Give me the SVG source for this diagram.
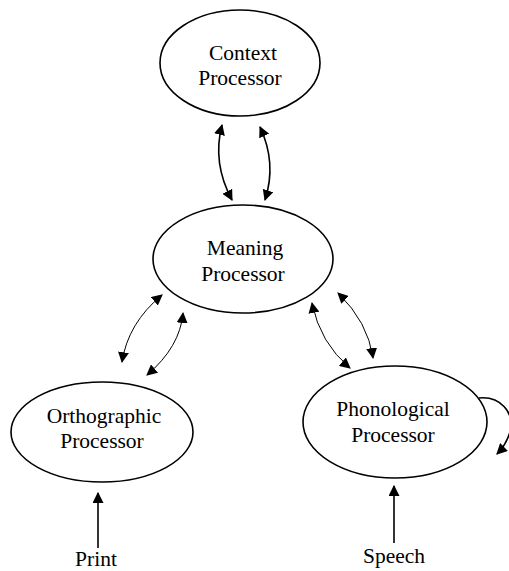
<svg xmlns="http://www.w3.org/2000/svg" width="509" height="571" viewBox="0 0 509 571">
<defs>
<style>
.node ellipse{fill:#fff;stroke:#000;stroke-width:1.6}
text{font-family:"Liberation Serif","Times New Roman",serif;font-size:21.5px;fill:#000;text-anchor:middle}
.c path{fill:none;stroke:#000}
.thick{stroke-width:1.6}
.thin{stroke-width:1}
</style>
<marker id="ah" viewBox="0 0 10 10" refX="9" refY="5" markerWidth="11" markerHeight="11" markerUnits="userSpaceOnUse" orient="auto-start-reverse">
<path d="M0,0 L10,5 L0,10 z" fill="#000"/>
</marker>
</defs>
<rect width="509" height="571" fill="#fff"/>
<g class="c" id="connectors">
<path class="thick" d="M222,125 Q212,163 232,200" marker-start="url(#ah)" marker-end="url(#ah)"/>
<path class="thick" d="M260,127 Q277,163 265,200" marker-start="url(#ah)" marker-end="url(#ah)"/>
<path class="thin" d="M162,295 Q128,323 122,362" marker-start="url(#ah)" marker-end="url(#ah)"/>
<path class="thin" d="M183,313 Q180,347 147,375" marker-start="url(#ah)" marker-end="url(#ah)"/>
<path class="thin" d="M312,303 Q320,343 350,368" marker-start="url(#ah)" marker-end="url(#ah)"/>
<path class="thin" d="M338,293 Q368,322 373,358" marker-start="url(#ah)" marker-end="url(#ah)"/>
<path class="thick" d="M479,398 C500,396 515,412 510,432 C507,442 503,448 497,454" marker-end="url(#ah)"/>
<path class="thick" d="M98,548 L98,493" marker-end="url(#ah)"/>
<path class="thick" d="M394,543 L394,486" marker-end="url(#ah)"/>
</g>
<g class="node" id="context">
<ellipse cx="240" cy="63" rx="80" ry="53"/>
<text x="243" y="60">Context</text>
<text x="240" y="85">Processor</text>
</g>
<g class="node" id="meaning">
<ellipse cx="243" cy="259" rx="90" ry="54"/>
<text x="245" y="255">Meaning</text>
<text x="243" y="281">Processor</text>
</g>
<g class="node" id="orthographic">
<ellipse cx="102" cy="432" rx="91" ry="50"/>
<text x="104" y="423">Orthographic</text>
<text x="102" y="448">Processor</text>
</g>
<g class="node" id="phonological">
<ellipse cx="395" cy="422" rx="92" ry="56"/>
<text x="393" y="416">Phonological</text>
<text x="393" y="442">Processor</text>
</g>
<g id="inputs">
<text x="96" y="566">Print</text>
<text x="394" y="563">Speech</text>
</g>
</svg>
